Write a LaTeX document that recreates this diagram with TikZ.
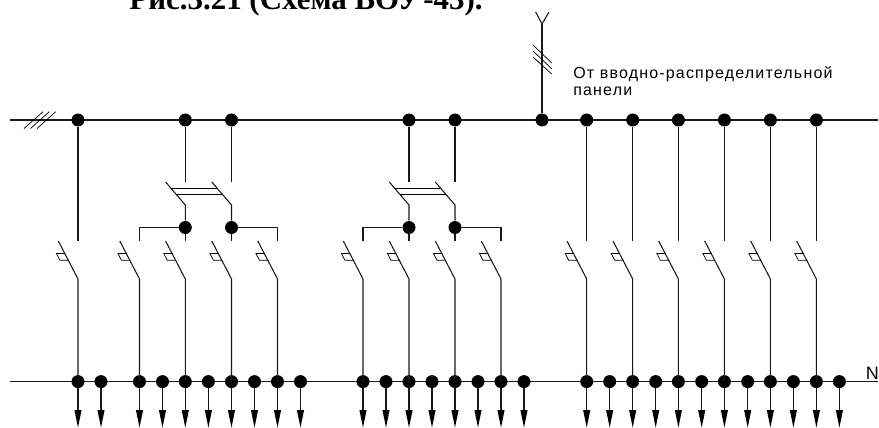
\documentclass[tikz,border=0pt]{standalone}
\usepackage{fontspec}
\setmainfont{Liberation Serif}
\setsansfont{Liberation Sans}
\newfontfamily\labfont[LetterSpace=7.4]{Liberation Sans}
\tikzset{
  wire/.style={line width=0.8pt,black!90},
  thin wire/.style={line width=0.55pt,black},
  junction/.style={circle,fill=black,inner sep=0pt,minimum width=9.75pt,minimum height=9pt},
}
\begin{document}
\begin{tikzpicture}[x=0.75pt,y=-0.75pt]
\useasboundingbox (0,0) rectangle (879,428);
\begin{scope}
\clip (0,0) rectangle (879,428);
\node[anchor=base,font=\bfseries\fontsize{23.2pt}{26pt}\selectfont,inner sep=0pt] (title) at (306,9.5) {Рис.3.21 (Схема ВОУ\hspace{0.1em}-43).};
\end{scope}
% buses
\coordinate (tl) at (10,120); \coordinate (tr) at (878,120);
\coordinate (bl) at (10,381.6); \coordinate (br) at (878,381.6);
\draw[wire] (tl) -- (tr);
\draw[wire] (bl) -- (br);
% bus hatch
\draw[thin wire] (24,128.5) -- (43,111.7) (30.5,128.5) -- (49.3,111.7) (37,128.5) -- (55.7,111.7);
% feed
\coordinate (feed) at (542,24);
\coordinate (feedL) at (535.7,12); \coordinate (feedR) at (549,12);
\node[junction] (Jfeed) at (542,120) {};
\draw[wire] (Jfeed) -- (feed);
\draw[wire] (feedL) -- (feed) -- (feedR);
\draw[thin wire] (533,45) -- (551.7,63) (533,51) -- (551.7,68.7) (533,57) -- (551.7,74);
\node[anchor=base west,inner sep=0pt,font=\labfont\fontsize{12pt}{14pt}\selectfont] (lab1) at (573,78.3) {От вводно-распределительной};
\node[anchor=base west,inner sep=0pt,font=\labfont\fontsize{12pt}{14pt}\selectfont] (lab2) at (573,95.7) {панели};
\node[anchor=base west,inner sep=0pt,font=\sffamily\fontsize{13.5pt}{15pt}\selectfont] (labN) at (865.5,379) {N};
% outgoing junctions with arrows
\foreach \x [count=\i] in {78,101,139.5,162.5,185.3,208.4,231.5,254.5,277.5,300.5,363,386,409,432,455,478,501,524,586.7,609.7,632.7,655.7,678.4,701.7,724.4,747.7,770.4,793.4,816.4,839.4}{
  \node[junction] (B\i) at (\x,381.6) {};
  \coordinate (A\i) at (\x,411);
  \draw[wire] (B\i) -- (A\i);
  \fill (\x-3.6,410) -- (\x+3.6,410) -- (\x,427.5) -- cycle;
}
% single-pole breakers
\foreach \x [count=\i] in {78,139.5,185.3,231.5,277.5,363,409,455,501,586.7,632.7,678.4,724.4,770.4,816.4}{
  \coordinate (H\i) at (\x-19.7,241);
  \coordinate (L\i) at (\x,279);
  \coordinate (D\i) at (\x,381.6);
  \draw[wire] (H\i) -- (L\i) -- (D\i);
  \draw[thin wire] (\x-13,253.5) -- ++(-8.5,0) -- ++(3.4,6.7) -- ++(9,0);
}
% direct feeds from top bus
\foreach \x [count=\i] in {78,586.7,632.7,678.4,724.4,770.4,816.4}{
  \node[junction] (T\i) at (\x,120) {};
  \coordinate (U\i) at (\x,241);
  \draw[wire] (T\i) -- (U\i);
}
% two-pole groups
\foreach \a/\b/\p/\q [count=\i] in {185.3/231.5/139.5/277.5,409/455/363/501}{
  \node[junction] (Ta\i) at (\a,120) {};
  \node[junction] (Tb\i) at (\b,120) {};
  \node[junction] (Ma\i) at (\a,227.5) {};
  \node[junction] (Mb\i) at (\b,227.5) {};
  \coordinate (Ca\i) at (\a,182);
  \coordinate (Cb\i) at (\b,182);
  \draw[wire] (Ta\i) -- (Ca\i);
  \draw[wire] (Tb\i) -- (Cb\i);
  \draw[wire] (\a-19.7,182) -- (\a,205) -- (Ma\i);
  \draw[wire] (\b-19.7,182) -- (\b,205) -- (Mb\i);
  \draw[wire] (Ma\i) -- (\a,241);
  \draw[wire] (Mb\i) -- (\b,241);
  \draw[wire] (\p,241) -- (\p,227.5) -- (Ma\i);
  \draw[wire] (Mb\i) -- (\q,227.5) -- (\q,241);
  \draw[thin wire] (\a-14.7,188) -- (\b-14.7,188);
  \draw[thin wire] (\a-9.5,194) -- (\b-9.5,194);
}
\end{tikzpicture}
\end{document}
